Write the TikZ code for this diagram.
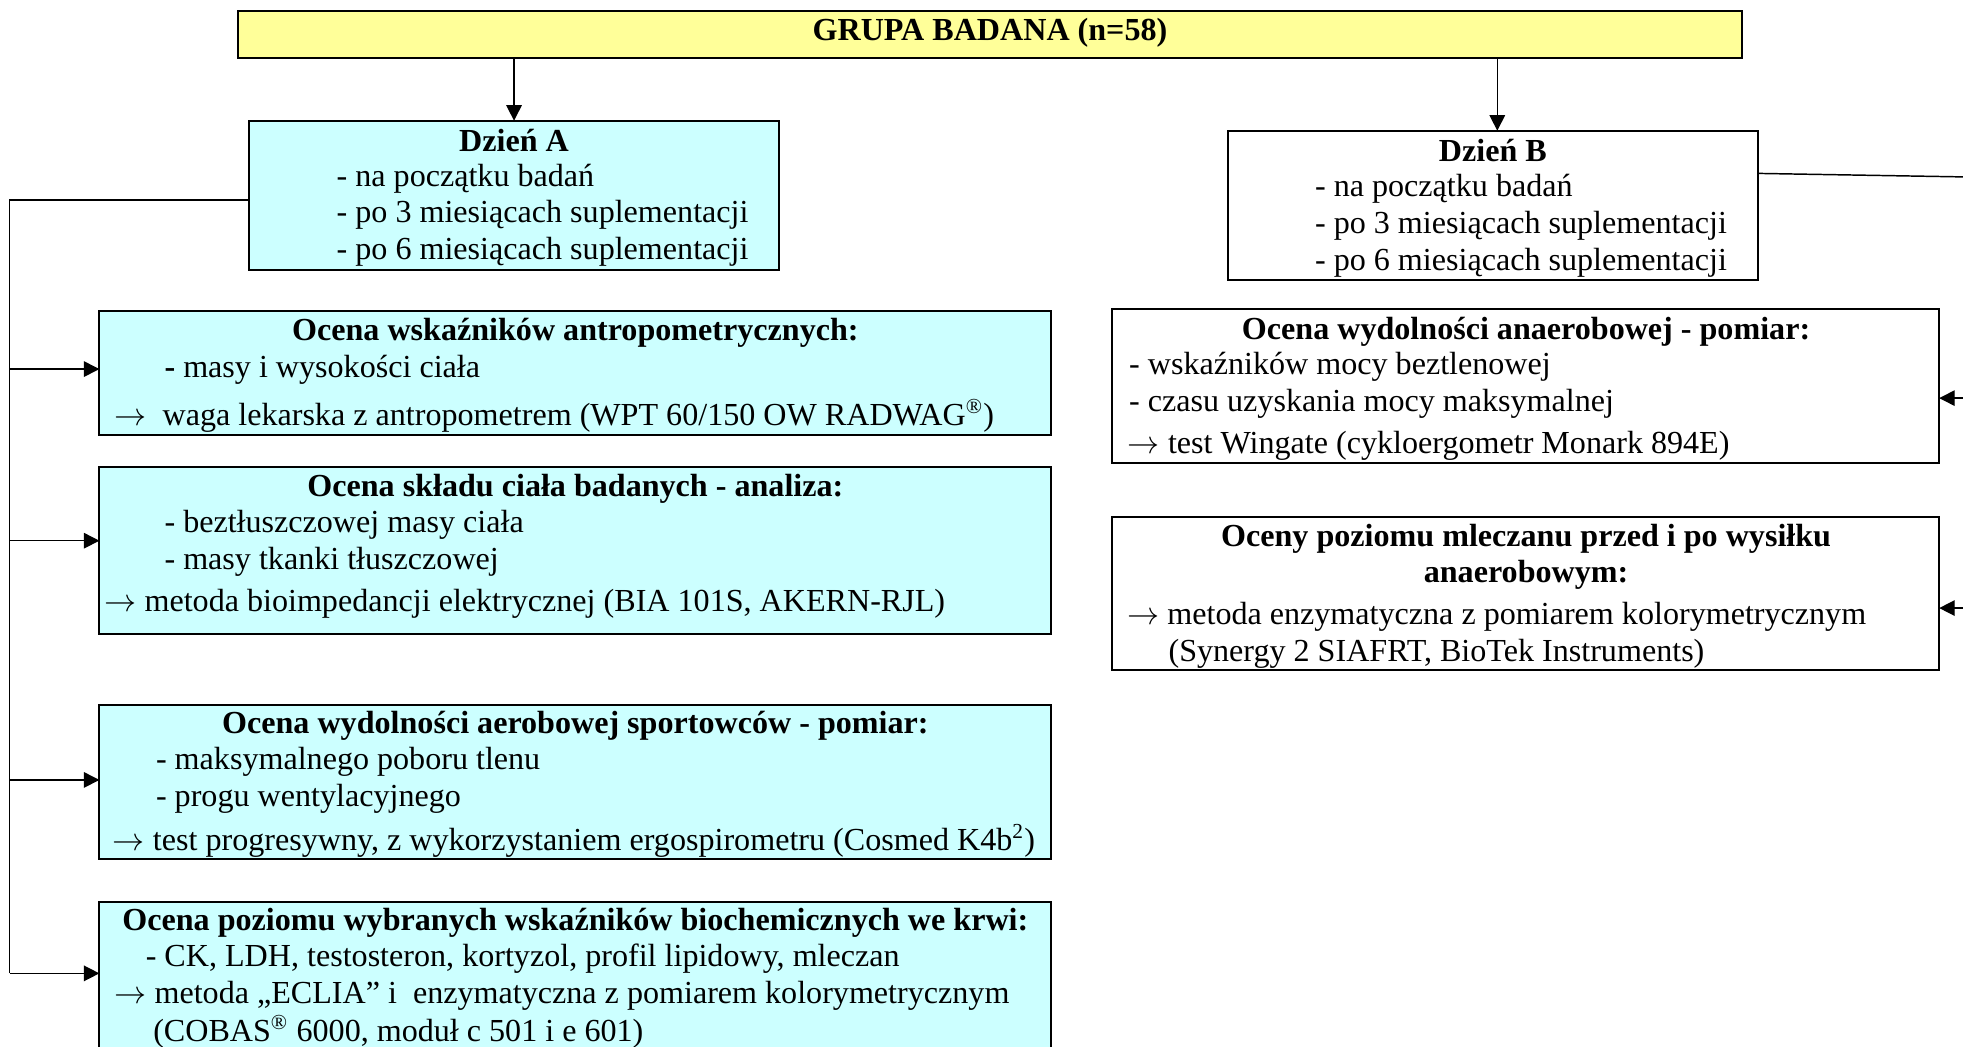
\documentclass[tikz,border=0pt]{standalone}
\usepackage{fontspec}
\setmainfont{Liberation Serif}
\newcommand\toarrow{\mbox{$\rightarrow$}}
\usetikzlibrary{arrows.meta,calc}
\definecolor{hdrfill}{RGB}{255,255,153}
\definecolor{cyanfill}{RGB}{204,255,255}
\newdimen\pxu \pxu=0.468pt

\begin{document}
\begin{tikzpicture}[x=\pxu, y=-\pxu,
  box/.style={draw=black, line width=0.8pt, anchor=north west, inner sep=0pt, outer sep=0pt},
  conn/.style={line width=0.55pt},
  arr/.style={conn, -{Triangle[length=5.8pt,width=5.8pt]}},
  ln/.style={anchor=base west, inner sep=0pt, font=\fontsize{12}{14}\selectfont},
  ttl/.style={anchor=base, inner sep=0pt, font=\fontsize{12}{14}\selectfont\bfseries}]

\useasboundingbox (0,0) rectangle (1568,836.3);
\clip (0,0) rectangle (1568,836.3);

% ---- boxes ----
\node[box, fill=hdrfill, minimum width=1201.5*\pxu, minimum height=37.8*\pxu] (top) at (190,8.5) {};
\node[box, fill=cyanfill, minimum width=423.8*\pxu, minimum height=119.3*\pxu] (dA) at (198.7,96.4) {};
\node[box, fill=white, minimum width=423*\pxu, minimum height=119.2*\pxu] (dB) at (981,104.4) {};
\node[box, fill=cyanfill, minimum width=760.3*\pxu, minimum height=99.3*\pxu] (b1) at (79.4,248.2) {};
\node[box, fill=cyanfill, minimum width=760.3*\pxu, minimum height=133.1*\pxu] (b2) at (79.4,373.3) {};
\node[box, fill=cyanfill, minimum width=760.3*\pxu, minimum height=123*\pxu] (b3) at (79.4,563.1) {};
\node[box, fill=cyanfill, minimum width=760.3*\pxu, minimum height=140*\pxu] (b4) at (79.4,720.2) {};
\node[box, fill=white, minimum width=660.7*\pxu, minimum height=122.8*\pxu] (r1) at (888.3,246.8) {};
\node[box, fill=white, minimum width=660.7*\pxu, minimum height=122.5*\pxu] (r2) at (888.3,412.7) {};

% ---- texts ----
\node[ttl] (tTop) at (790.8,32.5) {GRUPA BADANA (n=58)};

\node[ttl] (tA) at (410.6,121) {Dzień A};
\node[ln] (a1) at (268.5,149) {- na początku badań};
\node[ln] (a2) at (268.5,178) {- po 3 miesiącach suplementacji};
\node[ln] (a3) at (268.5,207.5) {- po 6 miesiącach suplementacji};

\node[ttl] (tB) at (1192.5,128.6) {Dzień B};
\node[ln] (bb1) at (1050,157) {- na początku badań};
\node[ln] (bb2) at (1050,186.4) {- po 3 miesiącach suplementacji};
\node[ln] (bb3) at (1050,215.7) {- po 6 miesiącach suplementacji};

\node[ttl] (t1) at (459.6,271.6) {Ocena wskaźników antropometrycznych:};
\node[ln] (l11) at (131,301.4) {{\bfseries -} masy i wysokości ciała};
\node[ln] (l12) at (91,339.5) {\toarrow\ \ waga lekarska z antropometrem (WPT 60/150 OW RADWAG\textsuperscript{®})};

\node[ttl] (t2) at (459.6,396.2) {Ocena składu ciała badanych - analiza:};
\node[ln] (l21) at (131,425.2) {- beztłuszczowej masy ciała};
\node[ln] (l22) at (131,454.8) {- masy tkanki tłuszczowej};
\node[ln] (l23) at (83,488.6) {\toarrow{} metoda bioimpedancji elektrycznej (BIA 101S, AKERN-RJL)};

\node[ttl] (t3) at (459.6,585.7) {Ocena wydolności aerobowej sportowców - pomiar:};
\node[ln] (l31) at (124.2,615) {- maksymalnego poboru tlenu};
\node[ln] (l32) at (124.2,644.3) {- progu wentylacyjnego};
\node[ln] (l33) at (89.7,679) {\toarrow{} test progresywny, z wykorzystaniem ergospirometru (Cosmed K4b\textsuperscript{2})};

\node[ttl] (t4) at (459.6,742.9) {Ocena poziomu wybranych wskaźników biochemicznych we krwi:};
\node[ln] (l41) at (116,772.2) {- CK, LDH, testosteron, kortyzol, profil lipidowy, mleczan};
\node[ln] (l42) at (91,801.4) {\toarrow{} metoda „ECLIA” i\ \ enzymatyczna z pomiarem kolorymetrycznym};
\node[ln] (l43) at (122,832) {(COBAS\textsuperscript{®} 6000, moduł c 501 i e 601)};

\node[ttl] (tr1) at (1219,271) {Ocena wydolności anaerobowej - pomiar:};
\node[ln] (m11) at (901.5,299.5) {- wskaźników mocy beztlenowej};
\node[ln] (m12) at (901.5,328.8) {- czasu uzyskania mocy maksymalnej};
\node[ln] (m13) at (900.5,362.1) {\toarrow{} test Wingate (cykloergometr Monark 894E)};

\node[ttl] (tr2a) at (1219,436.7) {Oceny poziomu mleczanu przed i po wysiłku};
\node[ttl] (tr2b) at (1219,465.1) {anaerobowym:};
\node[ln] (m21) at (900,498.7) {\toarrow{} metoda enzymatyczna z pomiarem kolorymetrycznym};
\node[ln] (m22) at (933,528) {(Synergy 2 SIAFRT, BioTek Instruments)};

% ---- connectors from the header ----
\draw[arr] (top.south -| dA.north) -- (dA.north);
\coordinate (bIn) at ($(dB.north)+(3.5,0)$);
\draw[arr] (top.south -| bIn) -- (bIn);

% ---- left branch (day A) ----
\coordinate (aOut) at ($(dA.north west)+(0,63.4)$);
\coordinate (lt) at (7.6,159.8);
\coordinate (b1in) at ($(b1.north west)+(0,46.6)$);
\coordinate (b2in) at ($(b2.north west)+(0,58.6)$);
\coordinate (b3in) at ($(b3.north west)+(0,59.9)$);
\coordinate (b4in) at ($(b4.north west)+(0,57.3)$);
\draw[conn] (aOut) -- (lt |- aOut) -- (lt |- b4in);
\draw[arr] (lt |- b1in) -- (b1in);
\draw[arr] (lt |- b2in) -- (b2in);
\draw[arr] (lt |- b3in) -- (b3in);
\draw[arr] (lt |- b4in) -- (b4in);

% ---- right branch (day B) ----
\coordinate (bOut) at ($(dB.north east)+(0,34.1)$);
\coordinate (rt) at (1574,141.4);
\coordinate (r1in) at ($(r1.north east)+(0,71.2)$);
\coordinate (r2in) at ($(r2.north east)+(0,73)$);
\draw[conn] (bOut) -- (rt) -- (rt |- r2in);
\draw[arr] (rt |- r1in) -- (r1in);
\draw[arr] (rt |- r2in) -- (r2in);
\end{tikzpicture}
\end{document}
